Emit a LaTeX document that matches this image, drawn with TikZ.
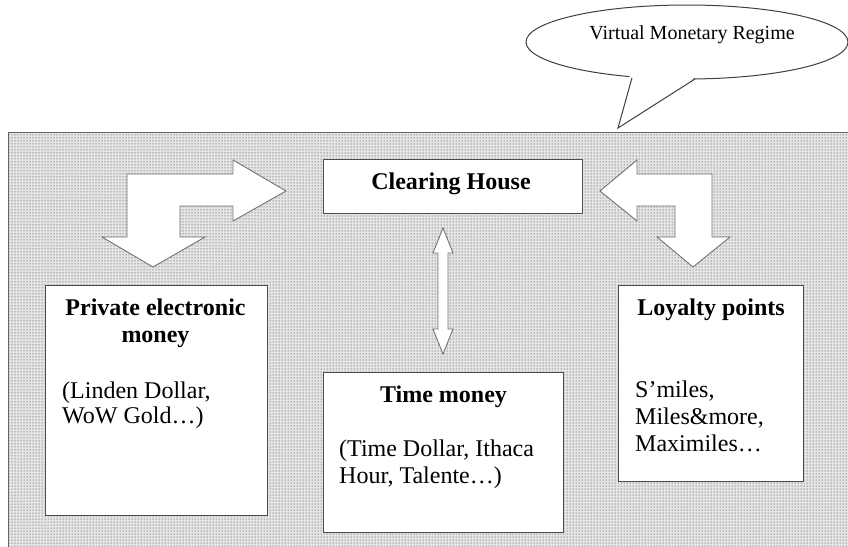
\documentclass[tikz,border=0pt]{standalone}
\usepackage{fontspec}
\setmainfont{Liberation Serif}
\usetikzlibrary{patterns,shapes.geometric}
\begin{document}
\begin{tikzpicture}[x=1pt,y=-1pt,
  box/.style={draw=black!70, line width=1pt, fill=white, inner sep=0pt},
  blockarrow/.style={draw=black!55, line width=0.9pt, fill=white, line join=miter},
  ttl/.style={font=\fontsize{24}{27}\selectfont\bfseries, inner sep=0pt, align=center, anchor=base},
  txt/.style={font=\fontsize{24}{27}\selectfont, inner sep=0pt, align=left, anchor=base west},
]
\useasboundingbox (0,0) rectangle (848,546);
\clip (0,0) rectangle (848,546);
\fill[white] (0,0) rectangle (848,546);
% dotted regime area
\fill[black!10] (8,132) rectangle (852,550);
\path[pattern=dots, pattern color=black!85] (8,132) rectangle (852,550);
\draw[black!60, line width=1pt] (8,550) -- (8,132) -- (852,132);

% callout
\node[draw=black!75, line width=1pt, fill=white, ellipse, minimum width=322pt, minimum height=74pt, inner sep=0pt] (vmr) at (687,42) {};
\fill[white] (630,74) -- (618,128) -- (697,76) -- cycle;
\coordinate (tip) at (618,128);
\draw[black!75, line width=1pt, line join=miter] (632,77.8) -- (tip) -- (695,79);
\node[font=\fontsize{20}{24}\selectfont, inner sep=0pt, anchor=base] (vmrt) at (692,39) {Virtual Monetary Regime};

% boxes
\node[box, minimum width=259pt, minimum height=54pt] (ch) at (452.5,186) {};
\node[ttl] (cht) at (451,189) {Clearing House};

\node[box, minimum width=222pt, minimum height=230pt] (pem) at (156,400) {};
\node[ttl] (pemt) at (155.5,342) {Private electronic\\money};
\node[txt, font=\fontsize{24}{25}\selectfont] (pemb) at (62,423) {(Linden Dollar,\\WoW Gold\ldots)};

\node[box, minimum width=240pt, minimum height=160pt] (tm) at (443,452) {};
\node[ttl] (tmt) at (443.5,402) {Time money};
\node[txt] (tmb) at (339,483) {(Time Dollar, Ithaca\\Hour, Talente\ldots)};

\node[box, minimum width=185pt, minimum height=196pt] (lp) at (710.5,383) {};
\node[ttl] (lpt) at (711,315) {Loyalty points};
\node[txt, font=\fontsize{24}{27}\selectfont] (lpb) at (635,451) {S’miles,\\Miles\&more,\\Maximiles\ldots};

% bent block arrows
\draw[blockarrow] (127,174) -- (233,174) -- (233,160) -- (286,191) -- (233,221) -- (233,206)
  -- (180,206) -- (180,237) -- (205,237) -- (153,267) -- (102,237) -- (127,237) -- cycle;
\draw[blockarrow] (600,191) -- (637,160) -- (637,174) -- (712,174) -- (712,237) -- (730,237)
  -- (693,267) -- (657,237) -- (675,237) -- (675,206) -- (637,206) -- (637,221) -- cycle;

% double arrow between Clearing House and Time money
\draw[blockarrow] (443,228) -- (453,253) -- (448,253) -- (448,329) -- (453,329) -- (443,354)
  -- (433,329) -- (438,329) -- (438,253) -- (433,253) -- cycle;
\end{tikzpicture}
\end{document}
